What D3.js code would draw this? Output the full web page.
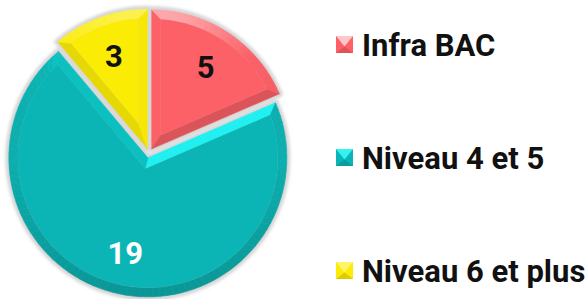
<!DOCTYPE html>
<html><head><meta charset="utf-8">
<script src="https://cdn.jsdelivr.net/npm/d3@7"></script>
<style>body{margin:0;background:#fff}svg{display:block}</style>
</head><body><div class="canvas"></div>
<script>
// data
const categories = ["Infra BAC", "Niveau 4 et 5", "Niveau 6 et plus"];
const values = [5, 19, 3];
const colors = ["#fd6168", "#0cb5b5", "#fbec06"];
const labelColors = ["#111", "#fff", "#111"];

const dims = { width: 588, height: 299 };
const center = { x: 149, y: 153 };
const R = 139, explode = 5, bevel = 9, labelR = 98;

const svg = d3.select('.canvas').append('svg')
  .attr('width', dims.width).attr('height', dims.height);

const defs = svg.append('defs');
defs.append('filter').attr('id', 'soft')
  .attr('x', '-20%').attr('y', '-20%').attr('width', '140%').attr('height', '140%')
  .append('feGaussianBlur').attr('stdDeviation', 1.6);

const pt = (a, r) => [Math.sin(a) * r, -Math.cos(a) * r];
// lighten / darken by the angle a face looks to (light from the top)
function shade(c, normal, base) {
  let t = Math.cos(normal);
  if (t > 0) t = Math.pow(t, 3);
  t += (base || 0);
  if (t > 0) {
    const h = d3.hsl(c);
    h.l = Math.min(0.95, h.l + t * 0.2);
    return h.formatHex();
  }
  return d3.interpolateRgb(c, '#000')(-t * 0.13);
}

const pie = d3.pie().sort(null).value(d => d);
const arcs = pie(values);
const arc = d3.arc().innerRadius(0).outerRadius(R);

const graph = svg.append('g').attr('transform', `translate(${center.x},${center.y})`);

// grey shadow under slices (fills the gaps)
graph.selectAll('.shadow').data(arcs).enter().append('path')
  .attr('class', 'shadow')
  .attr('transform', d => { const o = pt((d.startAngle + d.endAngle) / 2, explode); return `translate(${o[0]},${o[1]})`; })
  .attr('d', arc)
  .attr('fill', '#d2d2d2').attr('stroke', '#d6d6d6').attr('stroke-width', 7)
  .attr('stroke-linejoin', 'round')
  .attr('filter', 'url(#soft)');

const slices = graph.selectAll('.slice').data(arcs).enter().append('g')
  .attr('class', 'slice')
  .attr('transform', d => { const o = pt((d.startAngle + d.endAngle) / 2, explode); return `translate(${o[0]},${o[1]})`; });

slices.each(function (d, i) {
  const g = d3.select(this);
  const c = colors[i];
  const a0 = d.startAngle, a1 = d.endAngle, mid = (a0 + a1) / 2;
  const ri = R - bevel;
  const del = Math.asin(bevel / ri);
  const apexIn = pt(mid, bevel / Math.sin((a1 - a0) / 2));
  const line = d3.line();

  // start edge band
  const cs = shade(c, a0 - Math.PI / 2);
  g.append('path')
    .attr('d', line([[0, 0], pt(a0, R), pt(a0 + del, ri), apexIn]) + 'Z')
    .attr('fill', cs).attr('stroke', cs).attr('stroke-width', 0.6);
  // end edge band
  const ce = shade(c, a1 + Math.PI / 2, -0.15);
  g.append('path')
    .attr('d', line([[0, 0], apexIn, pt(a1 - del, ri), pt(a1, R)]) + 'Z')
    .attr('fill', ce).attr('stroke', ce).attr('stroke-width', 0.6);
  // outer arc band, in small steps
  const n = Math.max(4, Math.ceil((a1 - a0) / 0.05));
  const so = d3.scaleLinear().domain([0, n]).range([a0, a1]);
  const si = d3.scaleLinear().domain([0, n]).range([a0 + del, a1 - del]);
  for (let k = 0; k < n; k++) {
    const col = shade(c, (so(k) + so(k + 1)) / 2, -0.3);
    g.append('path')
      .attr('d', line([pt(so(k), R), pt(so(k + 1), R), pt(si(k + 1), ri), pt(si(k), ri)]) + 'Z')
      .attr('fill', col).attr('stroke', col).attr('stroke-width', 0.6);
  }
  // face
  const p = d3.path();
  p.moveTo(apexIn[0], apexIn[1]);
  const s = pt(a0 + del, ri);
  p.lineTo(s[0], s[1]);
  p.arc(0, 0, ri, a0 + del - Math.PI / 2, a1 - del - Math.PI / 2);
  p.closePath();
  g.append('path').attr('d', p.toString()).attr('fill', c);

  const lp = pt(mid, labelR);
  g.append('text')
    .attr('x', lp[0]).attr('y', lp[1]).attr('dy', '0.36em')
    .attr('text-anchor', 'middle')
    .attr('font-family', 'Roboto, sans-serif').attr('font-weight', 700).attr('font-size', 31)
    .attr('fill', labelColors[i])
    .text(values[i]);
});

// legend
const legend = svg.append('g').attr('class', 'legend');
const ly = d3.scaleLinear().domain([0, 2]).range([56, 282]);
categories.forEach((name, i) => {
  const y = ly(i), x = 336, s = 17, c = colors[i];
  const top = y - 20;
  const line = d3.line();
  const cx = x + s / 2, cy = top + s / 2;
  legend.append('rect').attr('x', x).attr('y', top).attr('width', s).attr('height', s).attr('fill', c);
  legend.append('path').attr('d', line([[x, top], [x + s, top], [cx, cy + 2]]) + 'Z').attr('fill', shade(c, 0));
  legend.append('path').attr('d', line([[x, top + s], [x + s, top + s], [cx, cy + 2]]) + 'Z').attr('fill', shade(c, Math.PI));
  legend.append('text')
    .attr('x', 362).attr('y', y)
    .attr('font-family', 'Roboto, sans-serif').attr('font-weight', 700).attr('font-size', 31)
    .attr('fill', '#111')
    .text(name);
});
</script>
</body></html>
